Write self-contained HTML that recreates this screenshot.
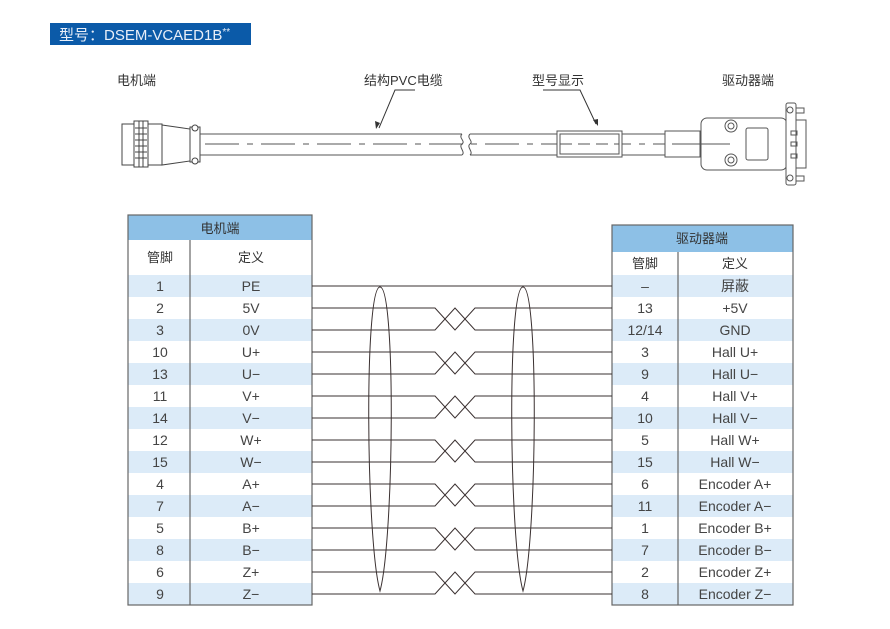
<!DOCTYPE html>
<html><head><meta charset="utf-8"><style>
body{margin:0;background:#fff;width:890px;height:624px;overflow:hidden;font-family:"Liberation Sans","Noto Sans CJK SC",sans-serif}
svg text{font-family:"Liberation Sans","Noto Sans CJK SC",sans-serif}
</style></head><body>
<svg width="890" height="624" viewBox="0 0 890 624" xmlns="http://www.w3.org/2000/svg">
<rect x="50" y="23" width="201" height="22" fill="#0b5aa8"/>
<text x="59" y="40" font-size="15" fill="#e8eef8">型号：DSEM-VCAED1B<tspan font-size="10" dy="-5">**</tspan></text>
<g font-size="13" fill="#333">
<text x="117" y="85">电机端</text>
<text x="364" y="85">结构PVC电缆</text>
<text x="532" y="85">型号显示</text>
<text x="722" y="85">驱动器端</text>
</g>
<g stroke="#333" stroke-width="1" fill="none">
<path d="M415 90H395L379 128"/>
<path d="M543 90H580L596 124"/>
</g>
<path d="M376 129l-1-8 5 2z M598 126l-5-6 5-1z" fill="#333"/>
<g stroke="#444" stroke-width="1" fill="#fff">
<rect x="122" y="124" width="12" height="41"/>
<rect x="134" y="121" width="14" height="46"/>
<line x1="139" y1="121" x2="139" y2="167"/><line x1="143" y1="121" x2="143" y2="167"/>
<path d="M135 128h12M135 134h12M135 140h12M135 146h12M135 152h12M135 158h12"/>
<rect x="148" y="124" width="14" height="41"/>
<path d="M162 125L190 129V161L162 165Z"/>
<rect x="190" y="127" width="10" height="35"/>
<circle cx="195" cy="128" r="3"/><circle cx="195" cy="161" r="3"/>
</g>
<g stroke="#555" stroke-width="1" fill="none">
<path d="M200 134H462M200 155H462"/>
<path d="M462 134c-4 4 4 7 0 10s4 8 0 11"/>
<path d="M470 134c-4 4 4 7 0 10s4 8 0 11"/>
<path d="M470 134H700M470 155H700"/>
<path d="M205 144H790" stroke-dasharray="34 8 6 8"/>
<rect x="557" y="131" width="65" height="26" fill="#fff"/>
<rect x="560" y="134" width="59" height="20"/>
<path d="M560 144H619" stroke-dasharray="12 6"/>
<rect x="665" y="131" width="35" height="26" fill="#fff"/>
<path d="M672 144H700"/>
<rect x="701" y="118" width="86" height="52" rx="6" fill="#fff"/>
<rect x="746" y="128" width="22" height="32" rx="2"/>
<path d="M700 144H730"/>
<circle cx="731" cy="126" r="6"/><circle cx="731" cy="126" r="3"/>
<circle cx="731" cy="160" r="6"/><circle cx="731" cy="160" r="3"/>
<rect x="786" y="103" width="10" height="82" rx="2" fill="#fff"/>
<rect x="796" y="120" width="10" height="48" fill="#fff"/>
<rect x="791" y="131" width="6" height="4"/><rect x="791" y="142" width="6" height="4"/><rect x="791" y="154" width="6" height="4"/>
<rect x="796" y="108" width="8" height="5"/><rect x="796" y="176" width="8" height="5"/>
<circle cx="790" cy="110" r="3"/><circle cx="790" cy="178" r="3"/>
</g>
<rect x="128" y="215" width="184" height="25" fill="#8dc0e6"/>
<text x="220" y="233" font-size="13" fill="#333" text-anchor="middle">电机端</text>
<text x="160" y="262" font-size="13" fill="#333" text-anchor="middle">管脚</text>
<text x="251" y="262" font-size="13" fill="#333" text-anchor="middle">定义</text>
<rect x="612" y="225" width="181" height="27" fill="#8dc0e6"/>
<text x="702" y="243" font-size="13" fill="#333" text-anchor="middle">驱动器端</text>
<text x="645" y="268" font-size="13" fill="#333" text-anchor="middle">管脚</text>
<text x="735" y="268" font-size="13" fill="#333" text-anchor="middle">定义</text>
<g font-size="14" fill="#444" text-anchor="middle">
<g fill="#dcebf8">
<rect x="128" y="275" width="184" height="22"/><rect x="128" y="319" width="184" height="22"/><rect x="128" y="363" width="184" height="22"/><rect x="128" y="407" width="184" height="22"/><rect x="128" y="451" width="184" height="22"/><rect x="128" y="495" width="184" height="22"/><rect x="128" y="539" width="184" height="22"/><rect x="128" y="583" width="184" height="22"/>
<rect x="612" y="275" width="181" height="22"/><rect x="612" y="319" width="181" height="22"/><rect x="612" y="363" width="181" height="22"/><rect x="612" y="407" width="181" height="22"/><rect x="612" y="451" width="181" height="22"/><rect x="612" y="495" width="181" height="22"/><rect x="612" y="539" width="181" height="22"/><rect x="612" y="583" width="181" height="22"/>
</g>
<text x="160" y="291">1</text><text x="251" y="291">PE</text><text x="645" y="291">–</text><text x="735" y="291">屏蔽</text>
<text x="160" y="313">2</text><text x="251" y="313">5V</text><text x="645" y="313">13</text><text x="735" y="313">+5V</text>
<text x="160" y="335">3</text><text x="251" y="335">0V</text><text x="645" y="335">12/14</text><text x="735" y="335">GND</text>
<text x="160" y="357">10</text><text x="251" y="357">U+</text><text x="645" y="357">3</text><text x="735" y="357">Hall U+</text>
<text x="160" y="379">13</text><text x="251" y="379">U−</text><text x="645" y="379">9</text><text x="735" y="379">Hall U−</text>
<text x="160" y="401">11</text><text x="251" y="401">V+</text><text x="645" y="401">4</text><text x="735" y="401">Hall V+</text>
<text x="160" y="423">14</text><text x="251" y="423">V−</text><text x="645" y="423">10</text><text x="735" y="423">Hall V−</text>
<text x="160" y="445">12</text><text x="251" y="445">W+</text><text x="645" y="445">5</text><text x="735" y="445">Hall W+</text>
<text x="160" y="467">15</text><text x="251" y="467">W−</text><text x="645" y="467">15</text><text x="735" y="467">Hall W−</text>
<text x="160" y="489">4</text><text x="251" y="489">A+</text><text x="645" y="489">6</text><text x="735" y="489">Encoder A+</text>
<text x="160" y="511">7</text><text x="251" y="511">A−</text><text x="645" y="511">11</text><text x="735" y="511">Encoder A−</text>
<text x="160" y="533">5</text><text x="251" y="533">B+</text><text x="645" y="533">1</text><text x="735" y="533">Encoder B+</text>
<text x="160" y="555">8</text><text x="251" y="555">B−</text><text x="645" y="555">7</text><text x="735" y="555">Encoder B−</text>
<text x="160" y="577">6</text><text x="251" y="577">Z+</text><text x="645" y="577">2</text><text x="735" y="577">Encoder Z+</text>
<text x="160" y="599">9</text><text x="251" y="599">Z−</text><text x="645" y="599">8</text><text x="735" y="599">Encoder Z−</text>
</g>
<g stroke="#666" stroke-width="1.2" fill="none">
<rect x="128" y="215" width="184" height="390"/>
<line x1="190" y1="240" x2="190" y2="605"/>
<rect x="612" y="225" width="181" height="380"/>
<line x1="678" y1="252" x2="678" y2="605"/>
</g>
<g stroke="#3a3030" stroke-width="1" fill="none">
<path d="M312 286H612"/>
<path d="M312 308H435L455 330L475 308H612M312 330H435L455 308L475 330H612"/>
<path d="M312 352H435L455 374L475 352H612M312 374H435L455 352L475 374H612"/>
<path d="M312 396H435L455 418L475 396H612M312 418H435L455 396L475 418H612"/>
<path d="M312 440H435L455 462L475 440H612M312 462H435L455 440L475 462H612"/>
<path d="M312 484H435L455 506L475 484H612M312 506H435L455 484L475 506H612"/>
<path d="M312 528H435L455 550L475 528H612M312 550H435L455 528L475 550H612"/>
<path d="M312 572H435L455 594L475 572H612M312 594H435L455 572L475 594H612"/>
<path d="M380 287C364 287 366 540 380 591C394 540 396 287 380 287Z"/>
<path d="M523 287C507 287 509 540 523 591C537 540 539 287 523 287Z"/>
</g>
</svg>
</body></html>
